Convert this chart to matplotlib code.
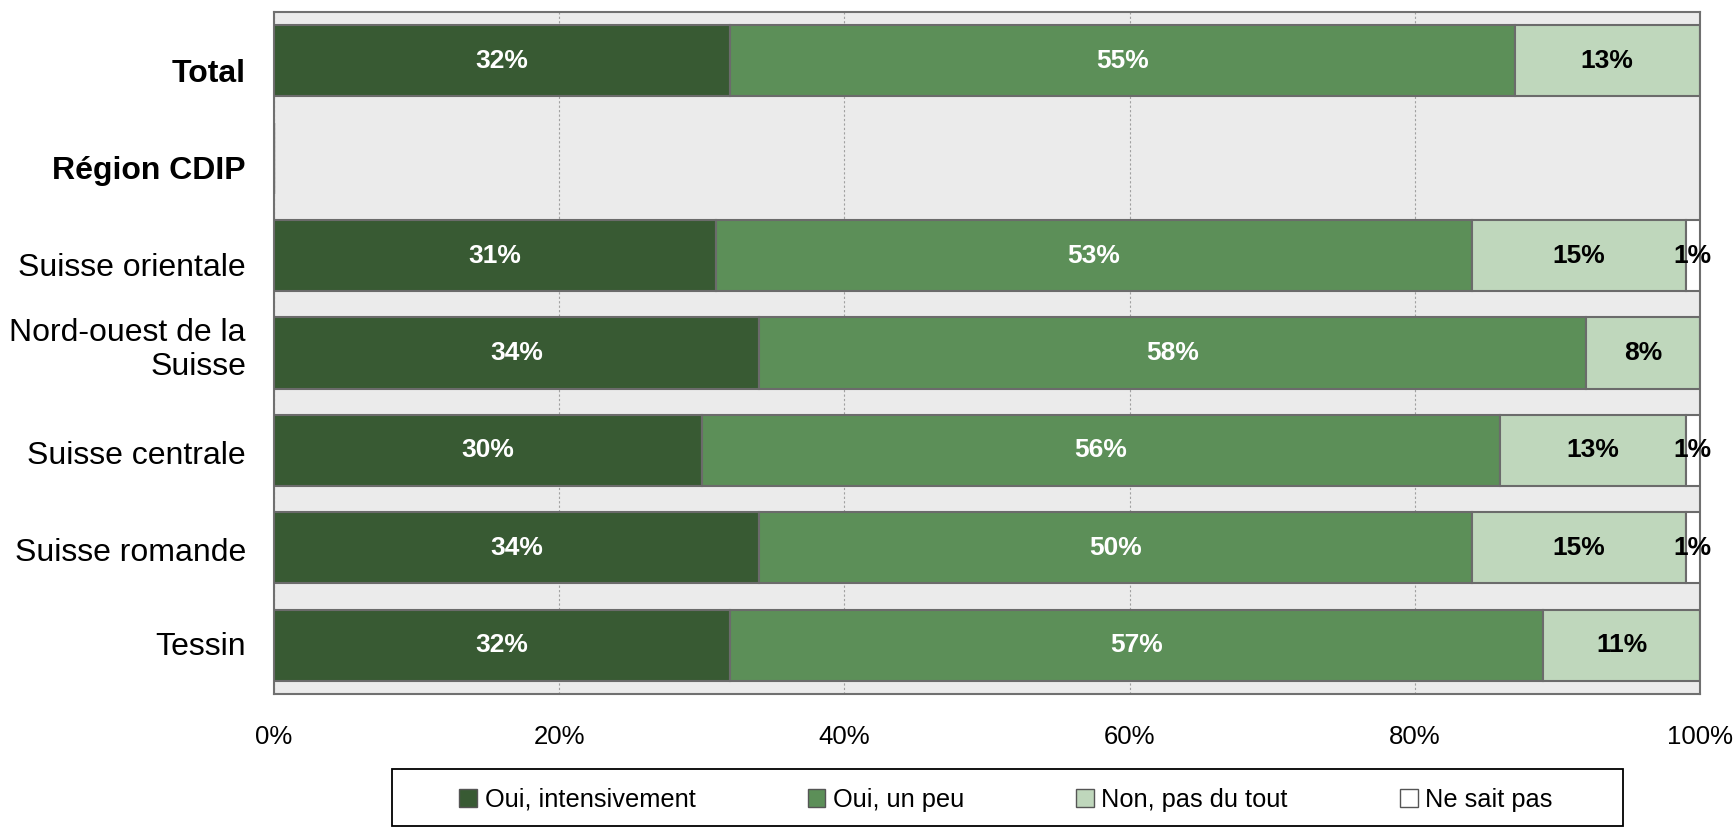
import numpy as np
import matplotlib.pyplot as plt
import matplotlib.transforms as mtransforms
from matplotlib.patches import Rectangle

plt.rcParams['font.family'] = ['Liberation Sans', 'DejaVu Sans']

# ==============================
# DATA
# ==============================
categories = ["Total", "Région CDIP", "Suisse orientale", "Nord-ouest de la\nSuisse",
              "Suisse centrale", "Suisse romande", "Tessin"]
bold_rows = ["Total", "Région CDIP"]
series_names = ["Oui, intensivement", "Oui, un peu", "Non, pas du tout", "Ne sait pas"]

oui_intens = [32, 0, 31, 34, 30, 34, 32]
oui_peu = [55, 0, 53, 58, 56, 50, 57]
non_pas = [13, 0, 15, 8, 13, 15, 11]
ne_sait = [0, 0, 1, 0, 1, 1, 0]

xticks = [0, 20, 40, 60, 80, 100]

colors = ["#385A33", "#5C8F58", "#BFD7BC", "#FFFFFF"]
text_colors = ["white", "white", "black", "black"]

# small vertical nudges (pixels, down = positive) to mimic the original label placement
label_nudge_px = [13, 13, 12, -3, 6, 5, 2]

# ==============================
# PLOT
# ==============================
fig = plt.figure(figsize=(17.35, 8.27), dpi=100)
ax = fig.add_axes([0.1579, 0.1608, 0.9798 - 0.1579, 0.9855 - 0.1608])
ax.set_facecolor("#EBEBEB")

y = np.arange(len(categories))
left = np.zeros(len(categories))
for vals, name, col, tcol in zip([oui_intens, oui_peu, non_pas, ne_sait],
                                 series_names, colors, text_colors):
    vals = np.array(vals, dtype=float)
    ax.barh(y, vals, left=left, height=0.73, color=col, edgecolor="#6B6B6B",
            linewidth=1.5, label=name, zorder=3)
    for yi, (l, v) in enumerate(zip(left, vals)):
        if v > 0:
            ax.text(l + v / 2, yi, f"{int(v)}%", ha="center", va="center",
                    fontsize=19, fontweight="bold", color=tcol, zorder=4)
    left += vals

ax.set_xlim(0, 100)
ax.set_ylim(len(categories) - 0.5, -0.5)
ax.set_xticks(xticks)
ax.set_xticklabels([f"{t}%" for t in xticks], fontsize=18.5)
ax.set_yticks(y)
ax.set_yticklabels([])
ax.tick_params(axis="both", length=0)
ax.tick_params(axis="x", pad=22)

# category labels drawn as texts so they can be nudged
blend = mtransforms.blended_transform_factory(ax.transAxes, ax.transData)
for yi, (cat, dy) in enumerate(zip(categories, label_nudge_px)):
    tr = blend + mtransforms.ScaledTranslation(-28 / 100, -dy / 100, fig.dpi_scale_trans)
    ax.text(0, yi, cat, transform=tr, ha="right", va="center", multialignment="right",
            fontsize=23, fontweight="bold" if cat in bold_rows else "normal",
            linespacing=1.2)

ax.grid(axis="x", color="#A0A0A0", linestyle=(0, (2, 2)), linewidth=0.8, zorder=1)
ax.set_axisbelow(True)
for sp in ax.spines.values():
    sp.set_color("#707070")
    sp.set_linewidth(1.5)

# legend box drawn by hand, entries centered inside
W, H = 1735.0, 827.0
fig.patches.append(Rectangle((392 / W, 1 / H), (1623 - 392) / W, 57 / H,
                             transform=fig.transFigure, facecolor="white",
                             edgecolor="black", linewidth=1.3, zorder=0))
leg = fig.legend(loc="center", bbox_to_anchor=(1006 / W, 27 / H), ncol=4,
                 frameon=False, fontsize=18.3, handlelength=0.7,
                 handleheight=0.7, handletextpad=0.3, columnspacing=4.4,
                 borderaxespad=0, borderpad=0)
for h in leg.legend_handles:
    h.set_edgecolor("#555555")
    h.set_linewidth(1.0)

fig.savefig("out.png", dpi=100)
plt.close()
